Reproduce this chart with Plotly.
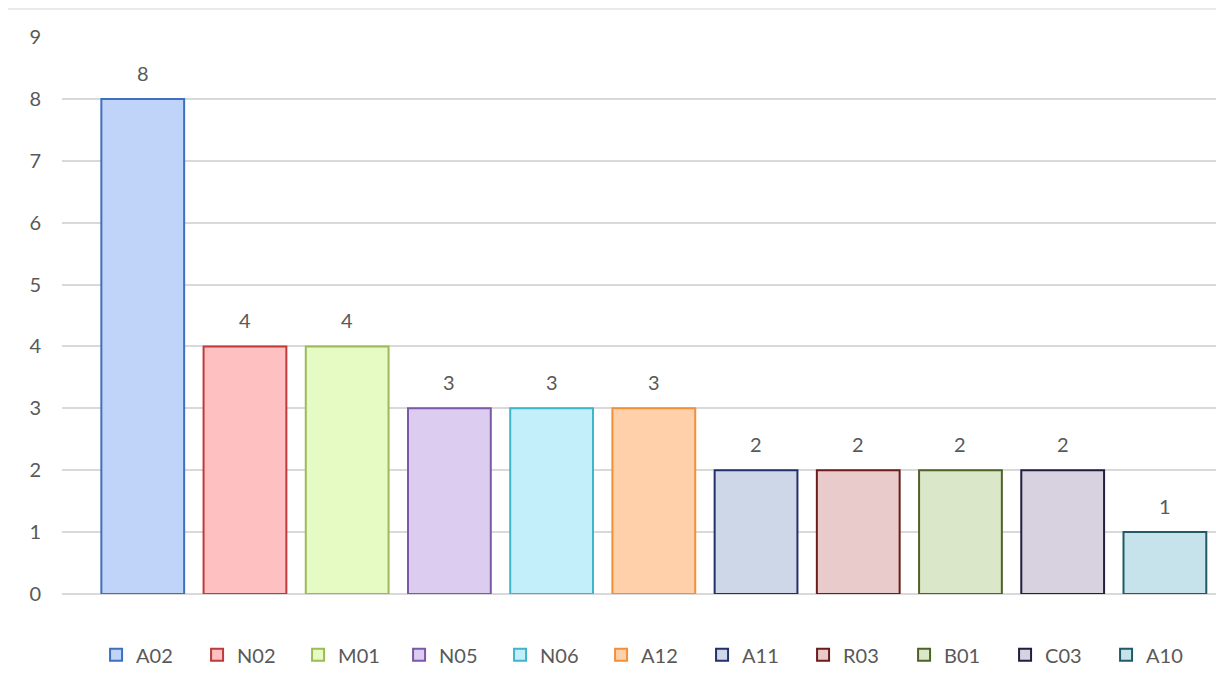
import plotly.graph_objects as go

categories = ["A02", "N02", "M01", "N05", "N06", "A12", "A11", "R03", "B01", "C03", "A10"]
values = [8, 4, 4, 3, 3, 3, 2, 2, 2, 2, 1]
fill_colors = ["#C0D4F9", "#FEC0C0", "#E6FAC4", "#DCCDF0", "#C3EFFA", "#FFD0AA",
               "#CDD7E8", "#E8CBCA", "#DBE7C9", "#D8D2E0", "#C6E2EA"]
line_colors = ["#3F6FBF", "#BF3A3A", "#9BBB59", "#7B58A8", "#3FB5C9", "#F0913A",
               "#22306C", "#6B1C1C", "#4F6228", "#231E40", "#225A68"]
y_ticks = [0, 1, 2, 3, 4, 5, 6, 7, 8, 9]

W, H = 1216, 682
L, R, T, B = 62, 0, 37, 88
FONT = "Lato"
GRAY = "#595959"

fig = go.Figure()
for i, (c, v) in enumerate(zip(categories, values)):
    fig.add_trace(go.Bar(
        x=[i], y=[v], name=c, width=0.81,
        marker=dict(color=fill_colors[i], line=dict(color=line_colors[i], width=2)),
    ))

annotations = [dict(x=i, y=v, xref="x", yref="y", text=str(v), showarrow=False,
                    yanchor="bottom", yshift=12,
                    font=dict(size=20, color=GRAY, family=FONT))
               for i, v in enumerate(values)]

fig.update_layout(
    width=W, height=H,
    margin=dict(l=L, r=R, t=T, b=B),
    paper_bgcolor="white", plot_bgcolor="white",
    font=dict(family=FONT, color=GRAY, size=20),
    barmode="overlay",
    showlegend=True,
    legend=dict(orientation="h", xref="container", x=0.079, xanchor="left",
                yref="container", y=0.04, yanchor="middle",
                font=dict(size=20, color=GRAY, family=FONT),
                entrywidth=56, entrywidthmode="pixels", itemwidth=30,
                itemclick=False, traceorder="normal"),
    xaxis=dict(range=[-0.79, 10.5], showticklabels=False, showgrid=False,
               zeroline=False, showline=False, ticks="", automargin=False),
    yaxis=dict(range=[0, 9], tickvals=y_ticks, showgrid=True, gridcolor="#D9D9D9",
               gridwidth=1.5, zeroline=True, zerolinecolor="#D9D9D9", zerolinewidth=1.5,
               showline=False, ticks="", ticklabelstandoff=20, automargin=False,
               tickfont=dict(size=20, color=GRAY, family=FONT)),
    annotations=annotations,
    shapes=[dict(type="line", xref="paper", yref="paper",
                 x0=(8 - L) / (W - L - R), x1=1, y0=1 + (T - 9) / (H - T - B),
                 y1=1 + (T - 9) / (H - T - B),
                 line=dict(color="#E3E3E3", width=1.5))],
)

fig.write_html("out.html", config={"displayModeBar": False},
               post_script="document.body.style.margin='0';")
